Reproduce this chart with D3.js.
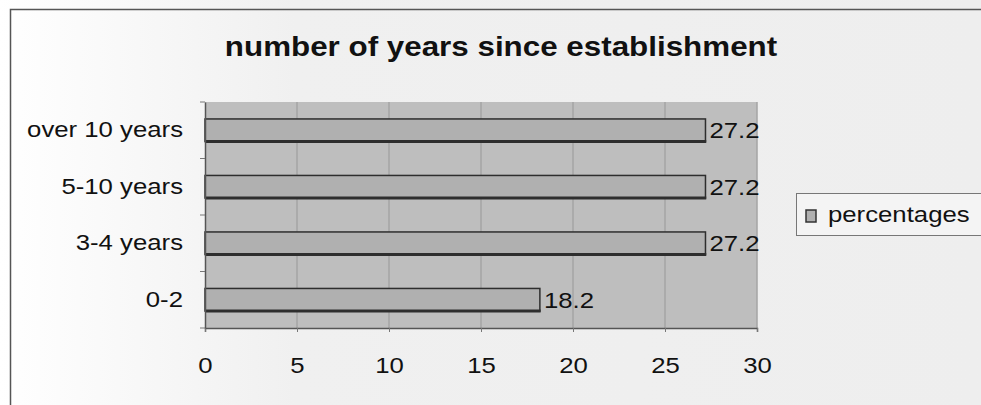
<!DOCTYPE html>
<html><head><meta charset="utf-8">
<script src="https://cdn.jsdelivr.net/npm/d3@7"></script>
<style>body{margin:0;background:#f1f1f1;}svg{display:block;font-family:"Liberation Sans",Arial,sans-serif;}</style>
</head><body>
<svg id="c" width="981" height="405"></svg>
<script>
const categories = ["over 10 years", "5-10 years", "3-4 years", "0-2"];
const percentages = [27.2, 27.2, 27.2, 18.2];
const xTicks = [0, 5, 10, 15, 20, 25, 30];
const title = "number of years since establishment";
const seriesName = "percentages";

const FS = 22, SX = 1.17;
const svg = d3.select("#c");
const defs = svg.append("defs");
const g = defs.append("linearGradient").attr("id","bg").attr("x1","0").attr("x2","1").attr("y1","0").attr("y2","0");
g.append("stop").attr("offset","0").attr("stop-color","#ffffff");
g.append("stop").attr("offset","0.3").attr("stop-color","#f0f0f0");
g.append("stop").attr("offset","1").attr("stop-color","#eeeeee");
svg.append("rect").attr("width",981).attr("height",405).attr("fill","url(#bg)");

// outer chart border (cropped)
svg.append("path").attr("d","M10.5,405 V9.5 H981").attr("fill","none").attr("stroke","#555").attr("stroke-width",1.5);

const L=205, R=757, T=102, B=328;
const x = d3.scaleLinear().domain([0,30]).range([L,R]);
const y = d3.scaleBand().domain(categories).range([T,B]).paddingInner(0.6).paddingOuter(0.3);

svg.append("rect").attr("x",L).attr("y",T).attr("width",R-L).attr("height",B-T).attr("fill","#bebebe");
// gridlines
svg.append("g").selectAll("line").data(xTicks.slice(1)).join("line")
  .attr("x1",d=>x(d)).attr("x2",d=>x(d)).attr("y1",T).attr("y2",B)
  .attr("stroke","#a4a4a4").attr("stroke-width",1.5);

// bars
const bars = svg.append("g");
bars.selectAll("rect").data(percentages).join("rect")
  .attr("x",x(0)).attr("y",(d,i)=>y(categories[i]))
  .attr("width",d=>x(d)-x(0)).attr("height",y.bandwidth())
  .attr("fill","#b0b0b0").attr("stroke","#2e2e2e").attr("stroke-width",1.5);
bars.selectAll("line").data(percentages).join("line")
  .attr("x1",x(0)).attr("x2",d=>x(d)+0.75)
  .attr("y1",(d,i)=>y(categories[i])+y.bandwidth()).attr("y2",(d,i)=>y(categories[i])+y.bandwidth())
  .attr("stroke","#2e2e2e").attr("stroke-width",3);

// axes
const xa = svg.append("g").attr("transform",`translate(0,${B})`)
  .call(d3.axisBottom(x).tickValues(xTicks).tickSize(4).tickPadding(25).tickFormat(d3.format("d")));
xa.select(".domain").attr("stroke","#555").attr("stroke-width",1.5);
xa.selectAll(".tick line").attr("stroke","#777");
xa.selectAll("text").attr("font-size",FS).attr("fill","#111").attr("font-family","Liberation Sans, Arial, sans-serif")
  .attr("transform",`scale(${SX},1)`);

const ya = svg.append("g").attr("transform",`translate(${L},0)`)
  .call(d3.axisLeft(y).tickSize(0).tickPadding(22));
ya.select(".domain").attr("stroke","#555").attr("stroke-width",1.5);
ya.selectAll("text").attr("font-size",FS).attr("fill","#111").attr("font-family","Liberation Sans, Arial, sans-serif")
  .attr("x",-22/SX).attr("transform",`scale(${SX},1)`);
// category separator ticks
const seps = categories.map((c,i)=> i===0 ? T : (y(categories[i-1])+y.bandwidth()+y(c))/2).concat([B]);
svg.append("g").selectAll("line").data(seps).join("line")
  .attr("x1",L-5).attr("x2",L).attr("y1",d=>d).attr("y2",d=>d).attr("stroke","#777");

// value labels
svg.append("g").selectAll("text").data(percentages).join("text")
  .attr("transform",(d,i)=>`translate(${x(d)+4},${y(categories[i])+y.bandwidth()/2}) scale(${SX},1)`)
  .attr("dy","0.36em").attr("font-size",FS).attr("fill","#111").text(d=>d.toFixed(1));

// title
svg.append("text").attr("transform","translate(501,56) scale(1.12,1)").attr("text-anchor","middle")
  .attr("font-size",28).attr("font-weight","bold").attr("fill","#111").text(title);

// legend
svg.append("rect").attr("x",796.5).attr("y",193.5).attr("width",190).attr("height",42)
  .attr("fill","#f4f4f4").attr("stroke","#777").attr("stroke-width",1);
svg.append("rect").attr("x",806).attr("y",210).attr("width",10).attr("height",12)
  .attr("fill","#b0b0b0").attr("stroke","#333").attr("stroke-width",1.5);
svg.append("text").attr("transform",`translate(828,222) scale(${SX},1)`).attr("font-size",FS).attr("fill","#111").text(seriesName);
</script>
</body></html>
